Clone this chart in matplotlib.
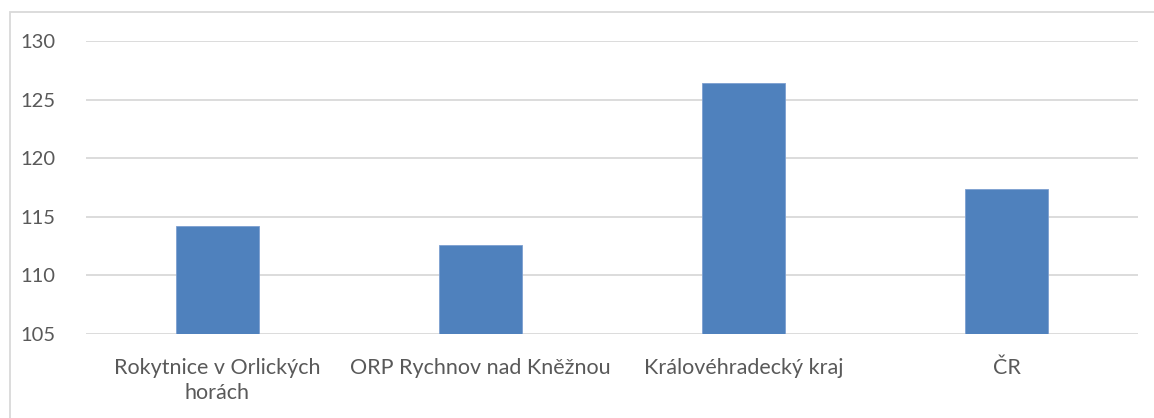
import matplotlib
matplotlib.use("Agg")
import matplotlib.pyplot as plt
from matplotlib.patches import Rectangle

categories = ["Rokytnice v Orlických\nhorách", "ORP Rychnov nad Kněžnou",
              "Královéhradecký kraj", "ČR"]
values = [114.2, 112.6, 126.4, 117.4]
yticks = [105, 110, 115, 120, 125, 130]

plt.rcParams["font.family"] = ["Lato", "DejaVu Sans"]

fig = plt.figure(figsize=(11.54, 4.18), dpi=100)
ax = fig.add_axes([86 / 1154, 1 - 334 / 418, (1138 - 86) / 1154, (334 - 41) / 418])

x = range(len(categories))
ax.bar(x, [v - 105 for v in values], bottom=105, width=0.315, color="#4f81bd",
       edgecolor="#7d9fd0", linewidth=0.6, zorder=3)

ax.set_xlim(-0.5, len(categories) - 0.5)
ax.set_ylim(105, 130)
ax.set_yticks(yticks)
ax.set_yticklabels([str(t) for t in yticks])
ax.set_xticks(list(x))
ax.set_xticklabels(categories, linespacing=1.35)
ax.yaxis.grid(True, color="#d9d9d9", linewidth=1.3, zorder=0)
ax.set_axisbelow(True)
for s in ax.spines.values():
    s.set_visible(False)
ax.tick_params(axis="both", length=0, labelcolor="#595959")
ax.tick_params(axis="y", labelsize=14.5, pad=22)
ax.tick_params(axis="x", labelsize=15.5, pad=17)

# chart border (right and bottom edges lie outside the image)
fig.patches.append(Rectangle((10 / 1154, -0.1), 1.2, 1.1 - 12 / 418,
                             transform=fig.transFigure, fill=False,
                             edgecolor="#d9d9d9", linewidth=1.3))

fig.savefig("out.png", dpi=100, facecolor="white")
